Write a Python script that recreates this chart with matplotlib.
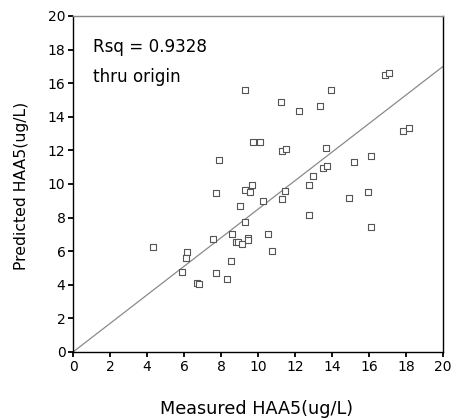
import matplotlib
matplotlib.use("Agg")
import matplotlib.pyplot as plt
import numpy as np

measured = [4.34, 6.18, 6.09, 5.91, 6.69, 6.83, 7.55, 7.73, 8.31, 8.54, 8.61, 8.79, 8.94,
            9.12, 9.30, 9.44, 9.48, 9.03, 7.73, 9.30, 9.57, 9.66, 10.29, 11.31, 11.46,
            14.94, 15.93, 12.74, 10.56, 10.74, 16.09, 16.86, 17.10, 13.95, 11.23, 12.23,
            13.37, 17.84, 18.18, 9.75, 10.11, 11.30, 11.50, 13.68, 15.17, 16.09, 13.53,
            13.71, 12.96, 12.74, 9.30, 7.89]
predicted = [6.27, 5.93, 5.61, 4.74, 4.09, 4.05, 6.73, 4.68, 4.35, 5.42, 7.04, 6.55, 6.55,
             6.41, 7.76, 6.80, 6.67, 8.71, 9.45, 9.64, 9.54, 9.94, 9.00, 9.10, 9.58,
             9.18, 9.54, 8.15, 7.00, 6.01, 7.42, 16.49, 16.63, 15.61, 14.90, 14.36,
             14.66, 13.15, 13.31, 12.52, 12.52, 11.94, 12.06, 12.12, 11.33, 11.67, 10.93,
             11.07, 10.48, 9.94, 15.58, 11.45]
slope = 0.85
line_x = [0, 20]
ticks = [0, 2, 4, 6, 8, 10, 12, 14, 16, 18, 20]

fig = plt.figure(figsize=(4.54, 4.2), dpi=100)
ax = fig.add_axes([0.161, 0.162, 0.815, 0.800])
ax.plot(line_x, [slope * v for v in line_x], color="#8a8a8a", lw=0.9, zorder=2)
ax.scatter(measured, predicted, marker="s", s=18, facecolors="white",
           edgecolors="#555555", linewidths=0.8, zorder=3)
ax.set_xlim(0, 20)
ax.set_ylim(0, 20)
ax.set_xticks(ticks)
ax.set_yticks(ticks)
ax.tick_params(direction="out", length=3.5, width=1.3, labelsize=10, colors="black", pad=2)
for s in ["left", "bottom", "right"]:
    ax.spines[s].set_color("black")
    ax.spines[s].set_linewidth(1.0)
ax.spines["top"].set_color("#888888")
ax.spines["top"].set_linewidth(1.0)
t1 = ax.text(0.054, 0.908, "Rsq = 0.9328", transform=ax.transAxes, fontsize=11, va="center", ha="left")
t2 = ax.text(0.054, 0.818, "thru origin", transform=ax.transAxes, fontsize=11, va="center", ha="left")
xl = ax.set_xlabel("Measured HAA5(ug/L)", fontsize=11)
yl = ax.set_ylabel("Predicted HAA5(ug/L)", fontsize=11)
ax.xaxis.set_label_coords(0.497, -0.143)
ax.yaxis.set_label_coords(-0.118, 0.494)

# fit text widths to the reference pixel widths
r = fig.canvas.get_renderer()
def fit(t, target, horizontal=True):
    bb = t.get_window_extent(r)
    w = bb.width if horizontal else bb.height
    t.set_fontsize(t.get_fontsize() * target / w)
fit(t1, 114)
t2.set_fontsize(t1.get_fontsize())
fit(xl, 192)
fit(yl, 168, horizontal=False)
fig.savefig("out.png", dpi=100)
